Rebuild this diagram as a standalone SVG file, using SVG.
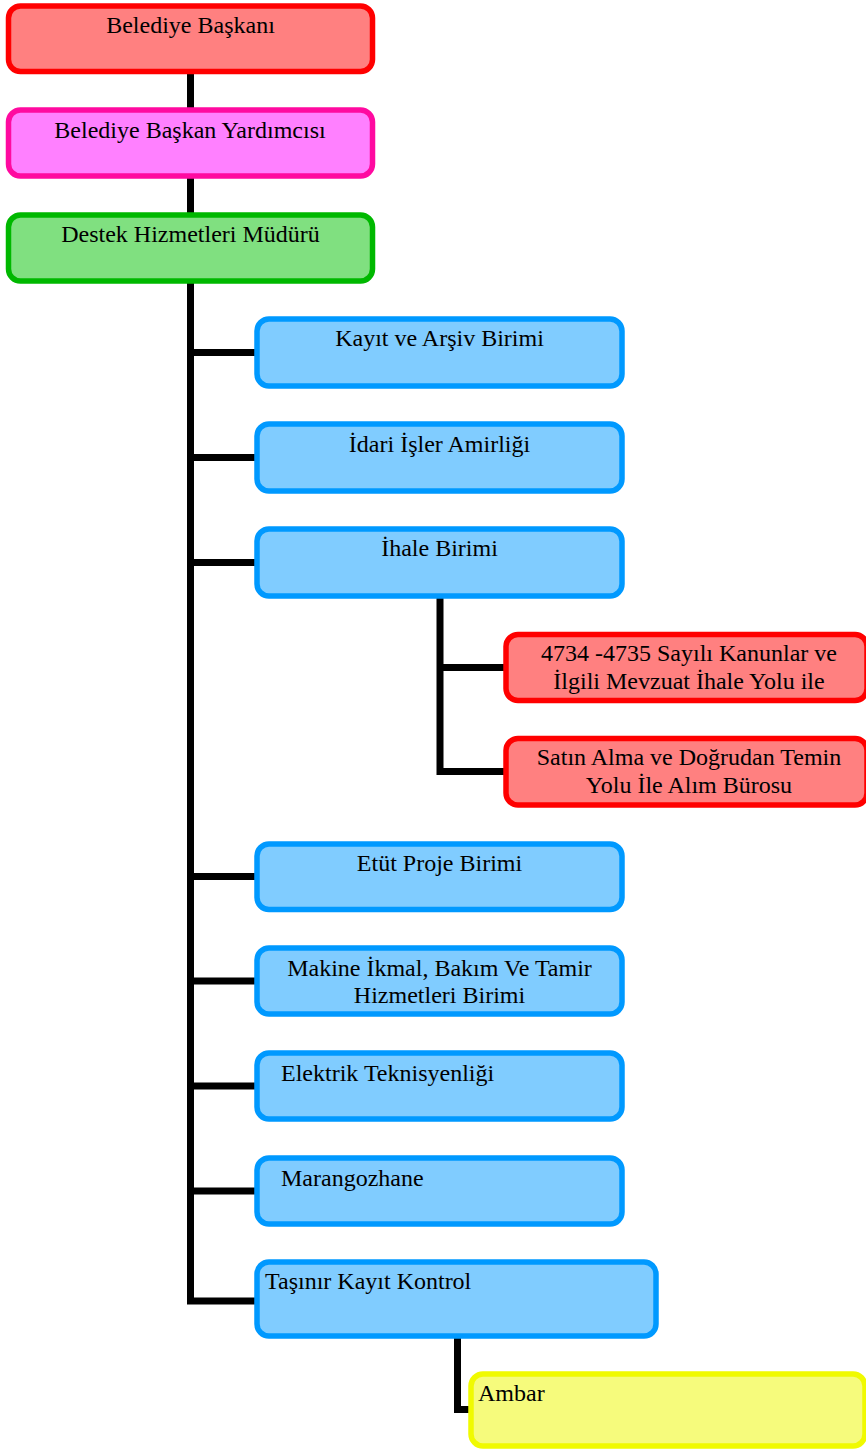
<svg xmlns="http://www.w3.org/2000/svg" width="866" height="1450" viewBox="0 0 866 1450">
  <style>
    .box { stroke-width: 5.5; }
    .red { fill: #FF8080; stroke: #FF0000; }
    .pink { fill: #FF80FF; stroke: #FF0AA0; }
    .green { fill: #80E080; stroke: #00B800; }
    .blue { fill: #80CCFF; stroke: #0099FF; }
    .yellow { fill: #F6FB7C; stroke: #F0FA00; }
    .lbl { font-family: "Liberation Serif", "Times New Roman", serif; font-size: 24px; fill: #000; }
    .c { text-anchor: middle; }
    .wire { fill: none; stroke: #000; stroke-width: 7; stroke-linejoin: miter; stroke-linecap: butt; }
  </style>

  <!-- connectors -->
  <g id="connectors">
    <path class="wire" d="M190.5 70 V1301 H257"/>
    <path class="wire" d="M190.5 352.5 H257 M190.5 457.5 H257 M190.5 562.5 H257 M190.5 876.5 H257 M190.5 981 H257 M190.5 1086 H257 M190.5 1191 H257"/>
    <path class="wire" d="M440 597 V771.5 H506 M440 667.5 H506"/>
    <path class="wire" d="M457.5 1336 V1409.5 H471"/>
  </g>

  <g id="n-baskan">
    <rect class="box red" x="8.5" y="6" width="364" height="65.5" rx="12"/>
    <text class="lbl c" x="190.5" y="33">Belediye Başkanı</text>
  </g>
  <g id="n-yardimci">
    <rect class="box pink" x="8.5" y="110" width="364" height="66" rx="12"/>
    <text class="lbl c" x="190" y="138">Belediye Başkan Yardımcısı</text>
  </g>
  <g id="n-mudur">
    <rect class="box green" x="8.5" y="215" width="364" height="66" rx="12"/>
    <text class="lbl c" x="190.5" y="242">Destek Hizmetleri Müdürü</text>
  </g>

  <g id="n-kayit">
    <rect class="box blue" x="257" y="319" width="365" height="67" rx="12"/>
    <text class="lbl c" x="439.5" y="346">Kayıt ve Arşiv Birimi</text>
  </g>
  <g id="n-idari">
    <rect class="box blue" x="257" y="424" width="365" height="67" rx="12"/>
    <text class="lbl c" x="439.5" y="451.5">İdari İşler Amirliği</text>
  </g>
  <g id="n-ihale">
    <rect class="box blue" x="257" y="529" width="365" height="67" rx="12"/>
    <text class="lbl c" x="439.5" y="556">İhale Birimi</text>
  </g>

  <g id="n-kanunlar">
    <rect class="box red" x="506" y="634.5" width="361" height="66" rx="12"/>
    <text class="lbl c" x="689" y="661">4734 -4735 Sayılı Kanunlar ve</text>
    <text class="lbl c" x="689" y="688.5">İlgili Mevzuat İhale Yolu ile</text>
  </g>
  <g id="n-satinalma">
    <rect class="box red" x="506" y="738.5" width="361" height="66.5" rx="12"/>
    <text class="lbl c" x="689" y="765">Satın Alma ve Doğrudan Temin</text>
    <text class="lbl c" x="689" y="793">Yolu İle Alım Bürosu</text>
  </g>

  <g id="n-etut">
    <rect class="box blue" x="257" y="844" width="365" height="65.5" rx="12"/>
    <text class="lbl c" x="439.5" y="871">Etüt Proje Birimi</text>
  </g>
  <g id="n-makine">
    <rect class="box blue" x="257" y="948" width="365" height="66" rx="12"/>
    <text class="lbl c" x="439.5" y="976">Makine İkmal, Bakım Ve Tamir</text>
    <text class="lbl c" x="439.5" y="1003">Hizmetleri Birimi</text>
  </g>
  <g id="n-elektrik">
    <rect class="box blue" x="257" y="1053" width="365" height="66" rx="12"/>
    <text class="lbl" x="281" y="1081">Elektrik Teknisyenliği</text>
  </g>
  <g id="n-marangoz">
    <rect class="box blue" x="257" y="1158" width="365" height="66" rx="12"/>
    <text class="lbl" x="281" y="1185.5">Marangozhane</text>
  </g>
  <g id="n-tasinir">
    <rect class="box blue" x="257" y="1262" width="399" height="74" rx="12"/>
    <text class="lbl" x="265" y="1289">Taşınır Kayıt Kontrol</text>
  </g>
  <g id="n-ambar">
    <rect class="box yellow" x="471" y="1374" width="394" height="72" rx="12"/>
    <text class="lbl" x="478" y="1401">Ambar</text>
  </g>
</svg>
